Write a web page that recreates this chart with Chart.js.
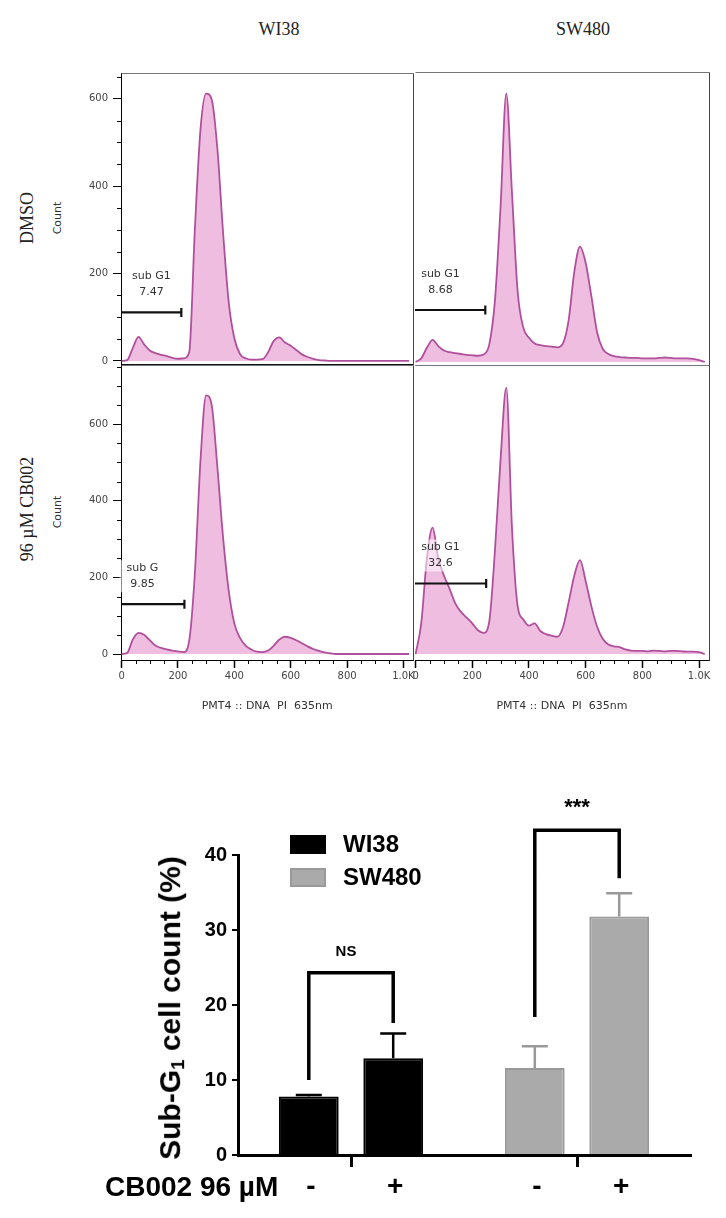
<!DOCTYPE html>
<html>
<head>
<meta charset="utf-8">
<title>Sub-G1 analysis</title>
<script src="https://cdn.jsdelivr.net/npm/chart.js@4.4.0/dist/chart.umd.min.js"></script>
<style>
  body { margin: 0; background: #fff; }
  #page { position: relative; width: 726px; height: 1218px; overflow: hidden; background: #fff; }
  canvas { position: absolute; }
  .txt { position: absolute; white-space: pre; transform: translate(-50%, -50%); }
  .rot { transform: translate(-50%, -50%) rotate(-90deg); }
  .serif { font-family: "Liberation Serif", "DejaVu Serif", serif; font-size: 18px; color: #222; }
  .count { font-family: "DejaVu Sans", sans-serif; font-size: 11px; color: #333; }
  .bold { font-family: "Liberation Sans", Arial, sans-serif; font-weight: bold; color: #000; }
  .bold sub { font-size: 0.62em; vertical-align: -0.2em; }
  .box { position: absolute; box-sizing: border-box; }
</style>
</head>
<body>
<div id="page">
  <div class="txt serif" style="left:279px;top:29px">WI38</div>
  <div class="txt serif" style="left:583px;top:29px">SW480</div>
  <div class="txt serif rot" style="left:27px;top:218px">DMSO</div>
  <div class="txt serif rot" style="left:27px;top:509px">96 µM CB002</div>
  <div class="txt count rot" style="left:57px;top:218px">Count</div>
  <div class="txt count rot" style="left:57px;top:512px">Count</div>

  <canvas id="c1" width="420" height="313" style="left:0;top:62px"></canvas>
  <canvas id="c2" width="321" height="313" style="left:405px;top:62px"></canvas>
  <canvas id="c3" width="420" height="370" style="left:0;top:350px"></canvas>
  <canvas id="c4" width="321" height="370" style="left:405px;top:350px"></canvas>

  <canvas id="bars" width="726" height="438" style="left:0;top:780px"></canvas>
  <div class="txt bold rot" style="left:171px;top:1008px;font-size:30px">Sub-G<sub>1</sub> cell count (%)</div>
  <div class="bold" style="position:absolute;left:105px;top:1187px;transform:translateY(-50%);font-size:28px;white-space:pre">CB002 96 µM</div>
  <div id="legend"></div>
</div>

<script>
// histogram bins (PMT4 :: DNA PI 635nm)
const binX = [0, 20, 40, 60, 80, 100, 120, 140, 160, 180, 200, 220, 240, 260, 280, 300, 320, 340, 360, 380,
  400, 420, 440, 460, 480, 500, 520, 540, 560, 580, 600, 620, 640, 660, 680, 700, 720, 740, 760, 780,
  800, 820, 840, 860, 880, 900, 920, 940, 960, 980, 1000, 1020];

const wi38Dmso = [0, 2, 30, 55, 38, 24, 18, 14, 11, 7, 5, 6, 20, 300, 530, 612, 598, 485, 295, 135,
  52, 16, 6, 3, 3, 4, 20, 46, 54, 42, 35, 25, 15, 9, 5, 2, 1, 0, 0, 0,
  0, 0, 0, 0, 0, 0, 0, 0, 0, 0, 0, 0];
const sw480Dmso = [0, 8, 32, 50, 36, 26, 22, 20, 18, 16, 15, 14, 17, 40, 140, 355, 610, 385, 160, 78,
  55, 42, 38, 36, 35, 33, 42, 95, 205, 262, 225, 150, 68, 30, 18, 13, 11, 10, 9, 9,
  8, 8, 8, 9, 10, 9, 8, 8, 8, 7, 4, 0];
const wi38Cb002 = [0, 3, 38, 55, 50, 36, 22, 16, 12, 9, 7, 5, 35, 210, 505, 675, 648, 487, 305, 166,
  80, 42, 22, 12, 6, 5, 9, 22, 38, 45, 42, 36, 28, 20, 13, 8, 4, 2, 0, 0,
  0, 0, 0, 0, 0, 0, 0, 0, 0, 0, 0, 0];
const sw480Cb002 = [0, 80, 250, 330, 250, 205, 170, 132, 110, 95, 80, 62, 55, 85, 270, 510, 695, 330, 125, 90,
  74, 80, 60, 52, 48, 45, 70, 135, 205, 245, 190, 125, 72, 40, 25, 20, 18, 12, 9, 8,
  8, 7, 9, 8, 7, 8, 8, 7, 6, 6, 5, 0];
const histTicks = [0, 200, 400, 600];
const dnaTicks = [0, 200, 400, 600, 800, 1000];

// sub G1 gates: level (count), right end (DNA), label text
const gateY = [111, 118, 130, 184];
const gateEnd = [212, 246, 223, 249];
const gateLabelX = [106, 88, 74, 88];
const gateName = ['sub G1', 'sub G1', 'sub G', 'sub G1'];
const gatePct = ['7.47', '8.68', '9.85', '32.6'];

// bar chart
const cellLines = ['WI38', 'SW480'];
const treatments = ['-', '+'];
const dmsoMean = [7.8, 11.6];
const dmsoErr = [0.2, 2.9];
const cb002Mean = [12.9, 31.8];
const cb002Err = [3.3, 3.1];
const barTicks = [0, 10, 20, 30, 40];
const sigText = ['NS', '***'];
const sigTop = [24.3, 43.3];
const sigLeft = [10.0, 18.4];
const sigRight = [17.6, 36.9];
const lineFill = ['#000000', '#aaaaaa'];
const lineEdge = ['#000000', '#999999'];

const panelPlugin = {
  id: 'panel',
  afterDatasetsDraw(chart, args, o) {
    const {ctx, chartArea: a, scales: {x, y}} = chart;
    ctx.save();
    // gate label
    const lx = x.getPixelForValue(gateLabelX[o.k]);
    const ly = y.getPixelForValue(gateY[o.k]);
    ctx.font = '11px "DejaVu Sans", sans-serif';
    ctx.fillStyle = 'rgba(255,255,255,0.55)';
    ctx.fillRect(lx - 23, ly - 44, 46, 32);
    ctx.fillStyle = '#333';
    ctx.textAlign = 'center';
    ctx.textBaseline = 'middle';
    ctx.fillText(gateName[o.k], lx, ly - 36);
    ctx.fillText(gatePct[o.k], lx, ly - 20);

    // frame (left panels own the shared middle line)
    const L = Math.round(a.left) + 0.5, R = Math.round(a.right) + 0.5;
    const T = Math.round(a.top) + 0.5, B = Math.round(a.bottom) + 0.5;
    ctx.lineWidth = 1;
    ctx.strokeStyle = '#777';
    ctx.beginPath(); ctx.moveTo(L, T); ctx.lineTo(R, T); ctx.stroke();
    ctx.strokeStyle = '#444';
    ctx.beginPath(); ctx.moveTo(R, T); ctx.lineTo(R, B); ctx.stroke();
    if (o.row === 0) {
      ctx.strokeStyle = '#111';
      ctx.beginPath(); ctx.moveTo(L, B); ctx.lineTo(R, B); ctx.stroke();
    }

    // minor ticks every 50
    ctx.strokeStyle = '#000';
    if (o.col === 0) {
      for (let v = 50; v <= y.max; v += 50) {
        if (v % 200 === 0) continue;
        const py = Math.round(y.getPixelForValue(v)) + 0.5;
        ctx.beginPath(); ctx.moveTo(a.left - 4, py); ctx.lineTo(a.left, py); ctx.stroke();
      }
    }
    if (o.row === 1) {
      for (let v = 50; v <= x.max; v += 50) {
        if (v % 200 === 0) continue;
        const px = Math.round(x.getPixelForValue(v)) + 0.5;
        ctx.beginPath(); ctx.moveTo(px, a.bottom); ctx.lineTo(px, a.bottom + 4); ctx.stroke();
      }
    }
    ctx.restore();
  }
};

function histChart(id, counts, k, row, col) {
  const tickFont = {family: 'DejaVu Sans', size: 10};
  const xAxis = {
    type: 'linear', min: -2, max: 1035,
    display: row === 1,
    afterBuildTicks: s => { s.ticks = dnaTicks.map(v => ({value: v})); },
    grid: {drawOnChartArea: false, tickLength: 8, color: '#000', tickWidth: 1.5},
    border: {color: '#000'},
    ticks: {
      font: tickFont, color: '#444', padding: 2, maxRotation: 0, autoSkip: false,
      callback: v => v === 1000 ? '1.0K' : String(v)
    },
    title: {
      display: true, text: 'PMT4 :: DNA  PI  635nm',
      font: {family: 'DejaVu Sans', size: 11}, color: '#333',
      padding: {top: 0, bottom: 7}
    }
  };
  if (row === 1) xAxis.afterFit = s => { s.height = 60; };
  const yAxis = {
    type: 'linear',
    min: row === 0 ? -7 : -15.6,
    max: row === 0 ? 659 : 754,
    display: col === 0,
    afterBuildTicks: s => { s.ticks = histTicks.map(v => ({value: v})); },
    grid: {drawOnChartArea: false, tickLength: 8, color: '#000'},
    border: {color: '#000'},
    ticks: {font: tickFont, color: '#444', padding: 5}
  };
  if (col === 0) yAxis.afterFit = s => { s.width = 121; };

  return new Chart(document.getElementById(id), {
    type: 'line',
    data: {
      datasets: [
        {
          data: [{x: -2, y: gateY[k]}, {x: gateEnd[k], y: gateY[k]}],
          borderColor: '#111', borderWidth: 2.2, fill: false,
          pointRadius: [0, 4.5], pointStyle: 'line', rotation: 90,
          pointBorderColor: '#111', pointBorderWidth: 2.2
        },
        {
          data: binX.map((v, i) => ({x: v, y: counts[i]})),
          borderColor: '#b0509c', borderWidth: 1.8,
          backgroundColor: '#efbde0', fill: 'origin',
          pointRadius: 0, cubicInterpolationMode: 'monotone'
        }
      ]
    },
    options: {
      responsive: false,
      animation: false,
      events: [],
      layout: {
        padding: {
          left: col === 0 ? 0 : 10,
          top: row === 0 ? 10 : 15,
          right: col === 0 ? 5 : 17,
          bottom: row === 0 ? 10 : 0
        }
      },
      plugins: {
        legend: {display: false},
        tooltip: {enabled: false},
        panel: {k: k, row: row, col: col}
      },
      scales: {x: xAxis, y: yAxis}
    },
    plugins: [panelPlugin]
  });
}

histChart('c1', wi38Dmso, 0, 0, 0);
histChart('c2', sw480Dmso, 1, 0, 1);
histChart('c3', wi38Cb002, 2, 1, 0);
histChart('c4', sw480Cb002, 3, 1, 1);

// ---- bar chart ----
const barExtras = {
  id: 'barExtras',
  afterDatasetsDraw(chart) {
    const {ctx, scales: {y}} = chart;
    ctx.save();
    // error bars (upper only)
    chart.data.datasets.forEach((ds, i) => {
      chart.getDatasetMeta(i).data.forEach((bar, j) => {
        const top = y.getPixelForValue(ds.data[j] + ds.err[j]);
        ctx.strokeStyle = lineEdge[j];
        ctx.lineWidth = 2.5;
        ctx.beginPath();
        ctx.moveTo(bar.x, bar.y); ctx.lineTo(bar.x, top);
        ctx.moveTo(bar.x - 13, top); ctx.lineTo(bar.x + 13, top);
        ctx.stroke();
      });
    });
    // significance brackets
    const m0 = chart.getDatasetMeta(0).data, m1 = chart.getDatasetMeta(1).data;
    ctx.strokeStyle = '#000';
    ctx.lineWidth = 3.5;
    ctx.lineJoin = 'miter';
    ctx.fillStyle = '#000';
    ctx.textAlign = 'center';
    ctx.textBaseline = 'middle';
    sigText.forEach((t, k) => {
      const xl = m0[k].x, xr = m1[k].x, yt = y.getPixelForValue(sigTop[k]);
      ctx.beginPath();
      ctx.moveTo(xl, y.getPixelForValue(sigLeft[k]));
      ctx.lineTo(xl, yt);
      ctx.lineTo(xr, yt);
      ctx.lineTo(xr, y.getPixelForValue(sigRight[k]));
      ctx.stroke();
      if (t === 'NS') {
        ctx.font = 'bold 15px "Liberation Sans", Arial';
        ctx.fillText(t, (xl + xr) / 2 - 5, yt - 21);
      } else {
        ctx.font = 'bold 22px "Liberation Sans", Arial';
        ctx.fillText(t, (xl + xr) / 2, yt - 22);
      }
    });
    // treatment labels under each bar
    ctx.font = 'bold 28px "Liberation Sans", Arial';
    chart.data.datasets.forEach((ds, i) => {
      chart.getDatasetMeta(i).data.forEach(bar => {
        ctx.fillText(treatments[i], bar.x + 2, 407);
      });
    });
    ctx.restore();
  }
};

new Chart(document.getElementById('bars'), {
  type: 'bar',
  data: {
    labels: cellLines,
    datasets: [
      {label: 'DMSO', data: dmsoMean, err: dmsoErr, backgroundColor: lineFill, borderColor: lineEdge,
        borderWidth: 2, categoryPercentage: 0.747, barPercentage: 0.708},
      {label: 'CB002', data: cb002Mean, err: cb002Err, backgroundColor: lineFill, borderColor: lineEdge,
        borderWidth: 2, categoryPercentage: 0.747, barPercentage: 0.708}
    ]
  },
  options: {
    responsive: false,
    animation: false,
    events: [],
    layout: {padding: {left: 0, top: 75, right: 36, bottom: 0}},
    plugins: {legend: {display: false}, tooltip: {enabled: false}},
    scales: {
      x: {
        afterFit: s => { s.height = 63; },
        grid: {offset: false, drawOnChartArea: false, tickLength: 12, lineWidth: 3, color: '#000'},
        border: {color: '#000', width: 3},
        ticks: {display: false}
      },
      y: {
        min: 0, max: 40,
        afterFit: s => { s.width = 238; },
        afterBuildTicks: s => { s.ticks = barTicks.map(v => ({value: v})); },
        grid: {drawOnChartArea: false, tickLength: 6, lineWidth: 2, color: '#000'},
        border: {color: '#000', width: 3},
        ticks: {font: {family: 'Liberation Sans', size: 20, weight: 'bold'}, color: '#000', padding: 5}
      }
    }
  },
  plugins: [barExtras]
});

// legend
const legend = document.getElementById('legend');
const legendTop = [835, 868];
cellLines.forEach((name, i) => {
  const b = document.createElement('div');
  b.className = 'box';
  b.style.cssText = `left:290px;top:${legendTop[i]}px;width:36px;height:19px;background:${lineFill[i]};border:2px solid ${lineEdge[i]}`;
  legend.appendChild(b);
  const t = document.createElement('div');
  t.className = 'bold';
  t.style.cssText = `position:absolute;left:343px;top:${legendTop[i] + 9}px;transform:translateY(-50%);font-size:24px`;
  t.textContent = name;
  legend.appendChild(t);
});
</script>
</body>
</html>
